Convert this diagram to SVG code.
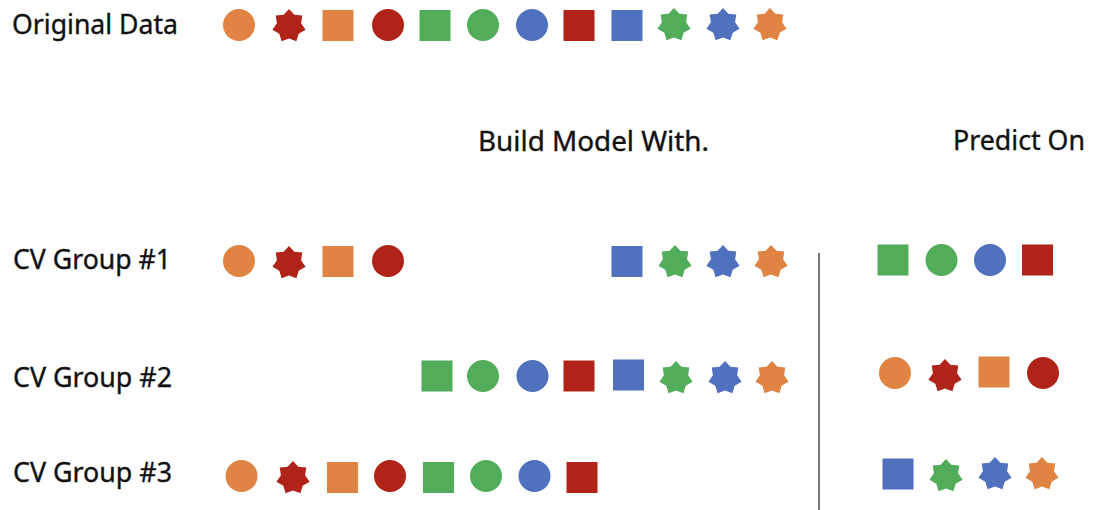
<svg xmlns="http://www.w3.org/2000/svg" xmlns:xlink="http://www.w3.org/1999/xlink" width="1094" height="510" viewBox="0 0 1094 510">
  <style>
    .lbl { font-family: "Noto Sans", "Open Sans", "Liberation Sans", Arial, sans-serif; font-size: 27px; fill: #111; stroke: #111; stroke-width: 0.35px; }
    .o { fill: #E08444; }
    .r { fill: #AF2319; }
    .g { fill: #51AD5A; }
    .b { fill: #4F71BE; }
    .divider { stroke: #555; stroke-width: 1.6; fill: none; }
  </style>
  <defs>
    <!-- seven-pointed star, centred on its origin -->
    <path id="star" d="M0,-17 L5.4,-11.2 L13.29,-10.6 L12.1,-2.76 L16.57,3.78 L9.7,7.74 L7.38,15.32 L0,12.4 L-7.38,15.32 L-9.7,7.74 L-16.57,3.78 L-12.1,-2.76 L-13.29,-10.6 L-5.4,-11.2 Z"/>
    <rect id="sq" x="-15.5" y="-15.5" width="31" height="31"/>
  </defs>

  <rect width="1094" height="510" fill="#fff"/>

  <!-- headings -->
  <g id="labels">
    <text class="lbl" x="12" y="34" textLength="166" lengthAdjust="spacingAndGlyphs">Original Data</text>
    <text class="lbl" x="478" y="151" textLength="231" lengthAdjust="spacingAndGlyphs">Build Model With.</text>
    <text class="lbl" x="953" y="150" textLength="132" lengthAdjust="spacingAndGlyphs">Predict On</text>
    <text class="lbl" x="13" y="269" textLength="158" lengthAdjust="spacingAndGlyphs">CV Group #1</text>
    <text class="lbl" x="13" y="387" textLength="159" lengthAdjust="spacingAndGlyphs">CV Group #2</text>
    <text class="lbl" x="13" y="482" textLength="159" lengthAdjust="spacingAndGlyphs">CV Group #3</text>
  </g>

  <!-- full data set -->
  <g id="original-data">
    <circle class="o" cx="239" cy="25" r="16"/>
    <use class="r" href="#star" xlink:href="#star" x="289" y="26"/>
    <use class="o" href="#sq" xlink:href="#sq" x="338" y="25.5"/>
    <circle class="r" cx="388" cy="25" r="16"/>
    <use class="g" href="#sq" xlink:href="#sq" x="435" y="25.5"/>
    <circle class="g" cx="483" cy="25" r="16"/>
    <circle class="b" cx="532" cy="25" r="16"/>
    <use class="r" href="#sq" xlink:href="#sq" x="579" y="25.5"/>
    <use class="b" href="#sq" xlink:href="#sq" x="627" y="25.5"/>
    <use class="g" href="#star" xlink:href="#star" x="674" y="25"/>
    <use class="b" href="#star" xlink:href="#star" x="723" y="25"/>
    <use class="o" href="#star" xlink:href="#star" x="770" y="25"/>
  </g>

  <!-- fold 1: training part -->
  <g id="cv1-train">
    <circle class="o" cx="239" cy="261" r="16"/>
    <use class="r" href="#star" xlink:href="#star" x="289" y="263"/>
    <use class="o" href="#sq" xlink:href="#sq" x="338" y="261.5"/>
    <circle class="r" cx="388" cy="261" r="16"/>
    <use class="b" href="#sq" xlink:href="#sq" x="627" y="261.5"/>
    <use class="g" href="#star" xlink:href="#star" x="675" y="262"/>
    <use class="b" href="#star" xlink:href="#star" x="723" y="262"/>
    <use class="o" href="#star" xlink:href="#star" x="771" y="262"/>
  </g>

  <!-- fold 2: training part -->
  <g id="cv2-train">
    <use class="g" href="#sq" xlink:href="#sq" x="437" y="376"/>
    <circle class="g" cx="483" cy="376" r="16"/>
    <circle class="b" cx="532.5" cy="376" r="16"/>
    <use class="r" href="#sq" xlink:href="#sq" x="579" y="376"/>
    <use class="b" href="#sq" xlink:href="#sq" x="628.5" y="375"/>
    <use class="g" href="#star" xlink:href="#star" x="676" y="378"/>
    <use class="b" href="#star" xlink:href="#star" x="725" y="378"/>
    <use class="o" href="#star" xlink:href="#star" x="772" y="378"/>
  </g>

  <!-- fold 3: training part -->
  <g id="cv3-train">
    <circle class="o" cx="241.5" cy="476" r="16"/>
    <use class="r" href="#star" xlink:href="#star" x="293" y="478"/>
    <use class="o" href="#sq" xlink:href="#sq" x="342.5" y="477.5"/>
    <circle class="r" cx="390" cy="476" r="16"/>
    <use class="g" href="#sq" xlink:href="#sq" x="438.5" y="477.5"/>
    <circle class="g" cx="486" cy="476" r="16"/>
    <circle class="b" cx="534.5" cy="476" r="16"/>
    <use class="r" href="#sq" xlink:href="#sq" x="582" y="477.5"/>
  </g>

  <!-- separator between training and held-out columns -->
  <g id="connectors">
    <line class="divider" x1="819" y1="253" x2="819" y2="510"/>
  </g>

  <!-- held-out sets -->
  <g id="cv1-predict">
    <use class="g" href="#sq" xlink:href="#sq" x="893" y="260"/>
    <circle class="g" cx="941.5" cy="260" r="16"/>
    <circle class="b" cx="990" cy="260" r="16"/>
    <use class="r" href="#sq" xlink:href="#sq" x="1037.5" y="260"/>
  </g>
  <g id="cv2-predict">
    <circle class="o" cx="895" cy="373" r="16"/>
    <use class="r" href="#star" xlink:href="#star" x="945" y="376"/>
    <use class="o" href="#sq" xlink:href="#sq" x="994" y="372"/>
    <circle class="r" cx="1043" cy="373" r="16"/>
  </g>
  <g id="cv3-predict">
    <use class="b" href="#sq" xlink:href="#sq" x="898" y="474"/>
    <use class="g" href="#star" xlink:href="#star" x="946" y="476"/>
    <use class="b" href="#star" xlink:href="#star" x="995" y="474"/>
    <use class="o" href="#star" xlink:href="#star" x="1042" y="474"/>
  </g>
</svg>
